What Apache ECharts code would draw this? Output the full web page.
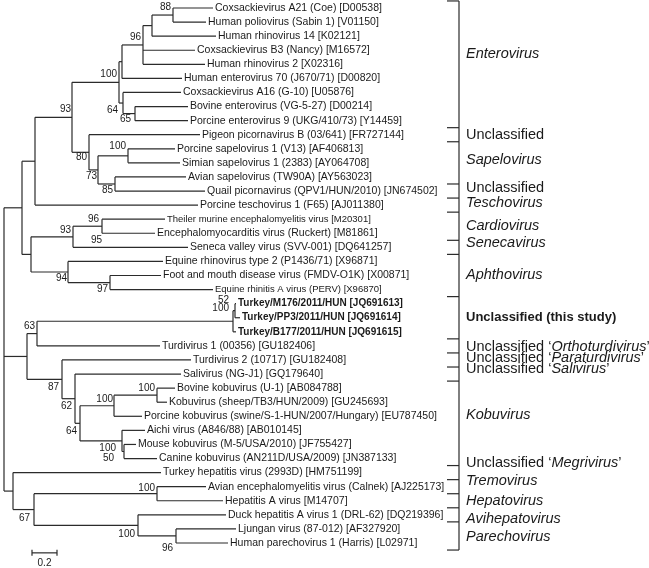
<!DOCTYPE html>
<html><head><meta charset="utf-8">
<script src="https://cdn.jsdelivr.net/npm/echarts@6/dist/echarts.min.js"></script>
<style>html,body{margin:0;padding:0;background:#fff}#c{width:649px;height:568px}</style>
</head><body><div id="c"></div>
<script>
// ---------- DATA ----------
const leafNames = [
'Coxsackievirus A21 (Coe) [D00538]',
'Human poliovirus (Sabin 1) [V01150]',
'Human rhinovirus 14 [K02121]',
'Coxsackievirus B3 (Nancy) [M16572]',
'Human rhinovirus 2 [X02316]',
'Human enterovirus 70 (J670/71) [D00820]',
'Coxsackievirus A16 (G-10) [U05876]',
'Bovine enterovirus (VG-5-27) [D00214]',
'Porcine enterovirus 9 (UKG/410/73) [Y14459]',
'Pigeon picornavirus B (03/641) [FR727144]',
'Porcine sapelovirus 1 (V13) [AF406813]',
'Simian sapelovirus 1 (2383) [AY064708]',
'Avian sapelovirus (TW90A) [AY563023]',
'Quail picornavirus (QPV1/HUN/2010) [JN674502]',
'Porcine teschovirus 1 (F65) [AJ011380]',
'Theiler murine encephalomyelitis virus [M20301]',
'Encephalomyocarditis virus (Ruckert) [M81861]',
'Seneca valley virus (SVV-001) [DQ641257]',
'Equine rhinovirus type 2 (P1436/71) [X96871]',
'Foot and mouth disease virus (FMDV-O1K) [X00871]',
'Equine rhinitis A virus (PERV) [X96870]',
'Turkey/M176/2011/HUN [JQ691613]',
'Turkey/PP3/2011/HUN [JQ691614]',
'Turkey/B177/2011/HUN [JQ691615]',
'Turdivirus 1 (00356) [GU182406]',
'Turdivirus 2 (10717) [GU182408]',
'Salivirus (NG-J1) [GQ179640]',
'Bovine kobuvirus (U-1) [AB084788]',
'Kobuvirus (sheep/TB3/HUN/2009) [GU245693]',
'Porcine kobuvirus (swine/S-1-HUN/2007/Hungary) [EU787450]',
'Aichi virus (A846/88) [AB010145]',
'Mouse kobuvirus (M-5/USA/2010) [JF755427]',
'Canine kobuvirus (AN211D/USA/2009) [JN387133]',
'Turkey hepatitis virus (2993D) [HM751199]',
'Avian encephalomyelitis virus (Calnek) [AJ225173]',
'Hepatitis A virus [M14707]',
'Duck hepatitis A virus 1 (DRL-62) [DQ219396]',
'Ljungan virus (87-012) [AF327920]',
'Human parechovirus 1 (Harris) [L02971]'];

// distance from root to each leaf tip (substitutions/site)
const leafTips = [1.672,1.616,1.696,1.528,1.608,1.424,1.416,1.472,1.472,1.568,
  1.368,1.408,1.456,1.608,1.552,1.288,1.208,1.472,1.272,1.256,1.672,
  1.856,1.888,1.856,1.248,1.496,1.416,1.368,1.304,1.104,1.128,1.056,1.224,
  1.256,1.616,1.752,1.776,1.856,1.792];

const nodeIds = ['R','NA','NB1','N93a','N100e','NU','N96','N152','N88','N64','N65','N80','N73','Nsap','N85',
  'NC','N93b','N96b','NAph','N97','NM','N63','NT','N52','N87','N62','N64k','N100k','N100bs','N100a','N50',
  'NB','N67','N100h','N100p','N96p'];
const nodeDepths = [0,0.144,0.248,0.544,0.92,0.944,1.112,1.184,1.352,0.952,1.048,0.68,0.752,0.992,0.888,
  0.216,0.552,0.784,0.512,0.848,0.184,0.264,1.832,1.848,0.464,0.568,0.608,0.88,1.224,0.944,0.96,
  0.072,0.24,1.224,1.072,1.376];
const nodeChildren = [
  ['NA','NM','NB'],['NB1','NC'],['N93a','L14'],['N100e','N80'],['NU','N64'],['N96','L5'],['N152','L3','L4'],
  ['N88','L2'],['L0','L1'],['L6','N65'],['L7','L8'],['L9','N73'],['Nsap','N85'],['L10','L11'],['L12','L13'],
  ['N93b','NAph'],['N96b','L17'],['L15','L16'],['L18','N97'],['L19','L20'],['N63','N87'],['NT','L24'],
  ['N52','L23'],['L21','L22'],['L25','N62'],['L26','N64k'],['N100k','N100a'],['N100bs','L29'],['L27','L28'],
  ['L30','N50'],['L31','L32'],['L33','N67'],['N100h','N100p'],['L34','L35'],['L36','N96p'],['L37','L38']];

const supportNodes  = ['N88','N96','N100e','N64','N65','N93a','N80','Nsap','N73','N85','N93b','N96b','N96b',
  'NAph','N97','N63','N52','NT','N87','N62','N64k','N100k','N100bs','N100a','N50','N67','N100h','N100p','N96p'];
const supportValues = [88,96,100,64,65,93,80,100,73,85,93,96,95,94,97,63,52,100,87,62,64,100,100,100,50,67,100,100,96];

const groupNames = ['{i|Enterovirus}','Unclassified','{i|Sapelovirus}','Unclassified','{i|Teschovirus}',
  '{i|Cardiovirus}','{i|Senecavirus}','{i|Aphthovirus}','{b|Unclassified (this study)}',
  'Unclassified \u2018{i|Orthoturdivirus}\u2019','Unclassified \u2018{i|Paraturdivirus}\u2019',
  'Unclassified \u2018{i|Salivirus}\u2019','{i|Kobuvirus}','Unclassified \u2018{i|Megrivirus}\u2019',
  '{i|Tremovirus}','{i|Hepatovirus}','{i|Avihepatovirus}','{i|Parechovirus}'];
const groupFirst = [0,9,10,13,14,15,17,18,21,24,25,26,27,33,34,35,36,37];
const groupLast  = [8,9,12,13,14,16,17,20,23,24,25,26,32,33,34,35,36,38];

const scaleBarLength = 0.2;

// ---------- LAYOUT (pixels / style only) ----------
const boldLeaves = [21,22,23];
const smallLeaves = [15,20];
const supportDy = [-8,-8,-8,7,6,-8,5,-10,6,6,-7,-7,14,6,7,-7,-10,-13,8,8,8,-6,-7,7,7,9,-5,9,12];
const supportDx = [-2,-2,-2,-5,-4,-1,-2,-2,-1,-2,-2,-3,0,-1,-2,-2,-6,-4,-3,-3,-3,-1,-2,-6,-10,-4,-2,-3,-3];
const groupDy = [-10,0,-3,-3,-2,0,-4,-1,0,1,-2,-5,-8,-10,-6,0,4,1];
const bracketX = 3.64, bracketTickX = 3.544, groupLabelX = 3.696;
const scaleBarX = 0.224, scaleBarY = 38.7;
const FONT = "'Liberation Sans', Arial, sans-serif";
const LINE = '#2b2b2b';

// ---------- TREE GEOMETRY (from data) ----------
const depthOf = id => id[0]==='L' ? leafTips[+id.slice(1)] : nodeDepths[nodeIds.indexOf(id)];
const yMemo = {};
function yOf(id){
  if (id[0]==='L') return +id.slice(1);
  if (yMemo[id]!==undefined) return yMemo[id];
  const k = nodeChildren[nodeIds.indexOf(id)];
  return (yMemo[id] = (yOf(k[0]) + yOf(k[k.length-1]))/2);
}
const segments = [];
nodeIds.forEach((id,i)=>{
  const k = nodeChildren[i], x = nodeDepths[i];
  segments.push([x, yOf(k[0]), x, yOf(k[k.length-1])]);
  k.forEach(c=>segments.push([x, yOf(c), depthOf(c), yOf(c)]));
});
const supportData = supportNodes.map((n,i)=>[depthOf(n), yOf(n), i]);
const leafData = leafNames.map((n,i)=>[leafTips[i], i, i]);
const groupData = groupNames.map((g,i)=>[groupLabelX, (groupFirst[i]+groupLast[i])/2, i]);
const bracketTicks = [];
groupFirst.forEach((f,i)=>{ bracketTicks.push(f-0.5); });
bracketTicks.push(groupLast[groupLast.length-1]+0.5);

const chart = echarts.init(document.getElementById('c'), null, {renderer:'canvas'});
chart.setOption({
  animation:false,
  backgroundColor:'#fff',
  grid:{left:4, top:8, width:625, height:535},
  xAxis:{type:'value', min:0, max:5, show:false},
  yAxis:{type:'value', min:0, max:38, inverse:true, show:false},
  series:[
    { type:'custom', clip:false, data:segments,
      renderItem:(p,api)=>{
        const a=api.coord([api.value(0),api.value(1)]), b=api.coord([api.value(2),api.value(3)]);
        return {type:'line', shape:{x1:a[0],y1:a[1],x2:b[0],y2:b[1]}, style:{stroke:LINE,lineWidth:1.2}};
      }},
    { type:'custom', clip:false, data:leafData,
      renderItem:(p,api)=>{
        const i=api.value(2), c=api.coord([api.value(0),api.value(1)]);
        const bold = boldLeaves.includes(i), small = smallLeaves.includes(i);
        return {type:'text', x:c[0]+2, y:c[1], style:{text:leafNames[i], fill:'#1a1a1a',
          font:(bold?'bold 10px ':(small?'9.5px ':'10.5px '))+FONT, align:'left', verticalAlign:'middle'}};
      }},
    { type:'custom', clip:false, data:supportData,
      renderItem:(p,api)=>{
        const i=api.value(2), c=api.coord([api.value(0),api.value(1)]);
        return {type:'text', x:c[0]+supportDx[i], y:c[1]+supportDy[i], style:{text:String(supportValues[i]),
          fill:'#1a1a1a', font:'10px '+FONT, align:'right', verticalAlign:'middle'}};
      }},
    { type:'custom', clip:false, data:groupData,
      renderItem:(p,api)=>{
        const i=api.value(2), c=api.coord([api.value(0),api.value(1)]);
        return {type:'text', x:c[0], y:c[1]+groupDy[i], style:{text:groupNames[i], fill:'#1a1a1a',
          font:'14.5px '+FONT, align:'left', verticalAlign:'middle',
          rich:{i:{fontStyle:'italic', fontSize:14.5, fontFamily:FONT, fill:'#1a1a1a'},
                b:{fontWeight:'bold', fontSize:13, fontFamily:FONT, fill:'#1a1a1a'}}}};
      }},
    { type:'custom', clip:false, data:[[bracketX, bracketTicks[0], bracketX, bracketTicks[bracketTicks.length-1]]],
      renderItem:(p,api)=>{
        const a=api.coord([api.value(0),api.value(1)]), b=api.coord([api.value(2),api.value(3)]);
        const kids=[{type:'line', shape:{x1:a[0],y1:a[1],x2:b[0],y2:b[1]}, style:{stroke:LINE,lineWidth:1.2}}];
        bracketTicks.forEach(t=>{
          const s=api.coord([bracketTickX,t]), e=api.coord([bracketX,t]);
          kids.push({type:'line', shape:{x1:s[0],y1:s[1],x2:e[0],y2:e[1]}, style:{stroke:LINE,lineWidth:1.2}});
        });
        return {type:'group', children:kids};
      }},
    { type:'custom', clip:false, data:[[scaleBarX, scaleBarY, scaleBarX+scaleBarLength, scaleBarY]],
      renderItem:(p,api)=>{
        const a=api.coord([api.value(0),api.value(1)]), b=api.coord([api.value(2),api.value(3)]);
        return {type:'group', children:[
          {type:'line', shape:{x1:a[0],y1:a[1],x2:b[0],y2:b[1]}, style:{stroke:LINE,lineWidth:1.2}},
          {type:'line', shape:{x1:a[0],y1:a[1]-3,x2:a[0],y2:a[1]+3}, style:{stroke:LINE,lineWidth:1.2}},
          {type:'line', shape:{x1:b[0],y1:b[1]-3,x2:b[0],y2:b[1]+3}, style:{stroke:LINE,lineWidth:1.2}},
          {type:'text', x:(a[0]+b[0])/2, y:a[1]+10, style:{text:String(scaleBarLength), fill:'#1a1a1a',
            font:'10px '+FONT, align:'center', verticalAlign:'middle'}}
        ]};
      }}
  ]
});
</script></body></html>
